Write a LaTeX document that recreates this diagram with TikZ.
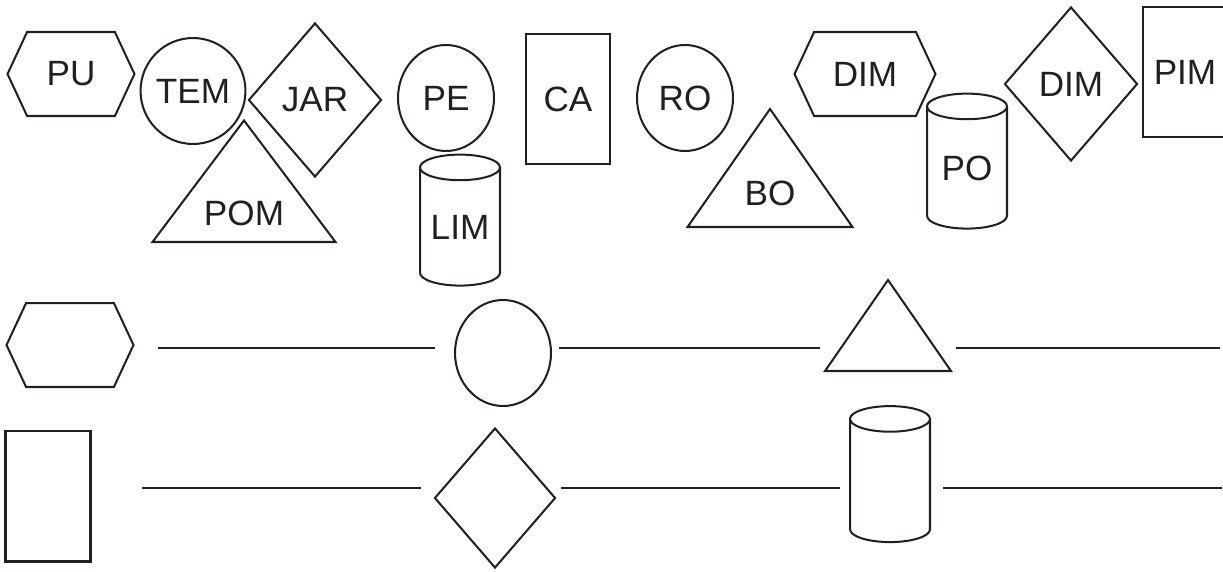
\documentclass[tikz,border=0pt]{standalone}
\usepackage{fontspec}
\setmainfont{Liberation Sans}
\usepackage{tikz}
\usetikzlibrary{shapes.geometric, shapes.symbols}
\usepackage{xcolor}
\definecolor{ink}{RGB}{35,31,32}

\begin{document}
\begin{tikzpicture}[
      x=0.02cm, y=-0.02cm,
      figure/.style = {
        draw=ink, line width=1.15pt, inner sep=0pt,
        font=\fontsize{20}{24}\selectfont, text=ink
      },
      hexfig/.style   = {figure, signal, signal to=west and east, signal pointer angle=130,
                         minimum width=2.54cm, minimum height=1.68cm},
      ovalfig/.style  = {figure, ellipse, minimum width=1.92cm, minimum height=2.12cm},
      rhombfig/.style = {figure, diamond, minimum width=2.66cm, minimum height=3.08cm},
      boxfig/.style   = {figure, rectangle, minimum width=1.68cm, minimum height=2.62cm},
      drumfig/.style  = {figure, cylinder, shape border rotate=90, aspect=0.32,
                         text width=1.6cm, align=center,
                         minimum width=1.6cm, minimum height=2.62cm},
      peakfig/.style  = {figure, isosceles triangle, shape border rotate=90,
                         isosceles triangle stretches, anchor=lower side},
      gapline/.style  = {draw=ink, line width=0.7pt}
    ]
    \useasboundingbox (0,0) rectangle (1223,571);

    % labelled shapes
    \node[hexfig]   (PU)   at (71,74)   {PU};
    \node[ovalfig]  (TEM)  at (193,91)  {TEM};
    \node[rhombfig] (JAR)  at (315,100) {JAR};
    \node[peakfig, minimum width=3.66cm, minimum height=2.36cm] (POM) at (244,243) {POM};
    \node[ovalfig]  (PE)   at (446,98)  {PE};
    \node[drumfig]  (LIM)  at (460,227) {LIM};
    \node[boxfig]   (CA)   at (568,99)  {CA};
    \node[ovalfig]  (RO)   at (685,98)  {RO};
    \node[peakfig, minimum width=3.3cm, minimum height=2.36cm] (BO) at (770,228) {BO};
    \node[hexfig, minimum width=2.82cm] (DIM) at (865,74) {DIM};
    \node[drumfig, minimum height=2.7cm] (PO) at (967,168) {PO};
    \node[rhombfig] (DIMb) at (1071,84) {DIM};
    \node[boxfig, minimum height=2.6cm] (PIM) at (1185,72) {PIM};

    % row with hexagon, oval, triangle
    \node[hexfig]  (hexA)  at (70,345)  {};
    \node[ovalfig] (ovalA) at (503,353) {};
    \node[peakfig, minimum width=2.52cm, minimum height=1.82cm] (peakA) at (888,372) {};
    \coordinate (endA) at (1220,348);

    \draw[gapline, shorten <=0.46cm, shorten >=0.38cm] (hexA.east |- endA) -- (ovalA.west |- endA);
    \draw[gapline, shorten <=0.14cm, shorten >=0.71cm] (ovalA.east |- endA) -- (peakA.left side |- endA);
    \draw[gapline, shorten <=0.71cm] (peakA.right side |- endA) -- (endA);

    % row with box, rhomb, drum
    \node[boxfig, minimum width=1.7cm] (boxB) at (48,496) {};
    \node[rhombfig, minimum width=2.42cm, minimum height=2.8cm] (rhombB) at (495,498) {};
    \node[drumfig, minimum height=2.72cm] (drumB) at (890,481) {};
    \coordinate (endB) at (1222,488);

    \draw[gapline, shorten <=1.02cm, shorten >=0.25cm] (boxB.east |- endB) -- (rhombB.west |- endB);
    \draw[gapline, shorten <=0.09cm, shorten >=0.18cm] (rhombB.east |- endB) -- (drumB.west |- endB);
    \draw[gapline, shorten <=0.24cm] (drumB.east |- endB) -- (endB);
  \end{tikzpicture}
\end{document}
